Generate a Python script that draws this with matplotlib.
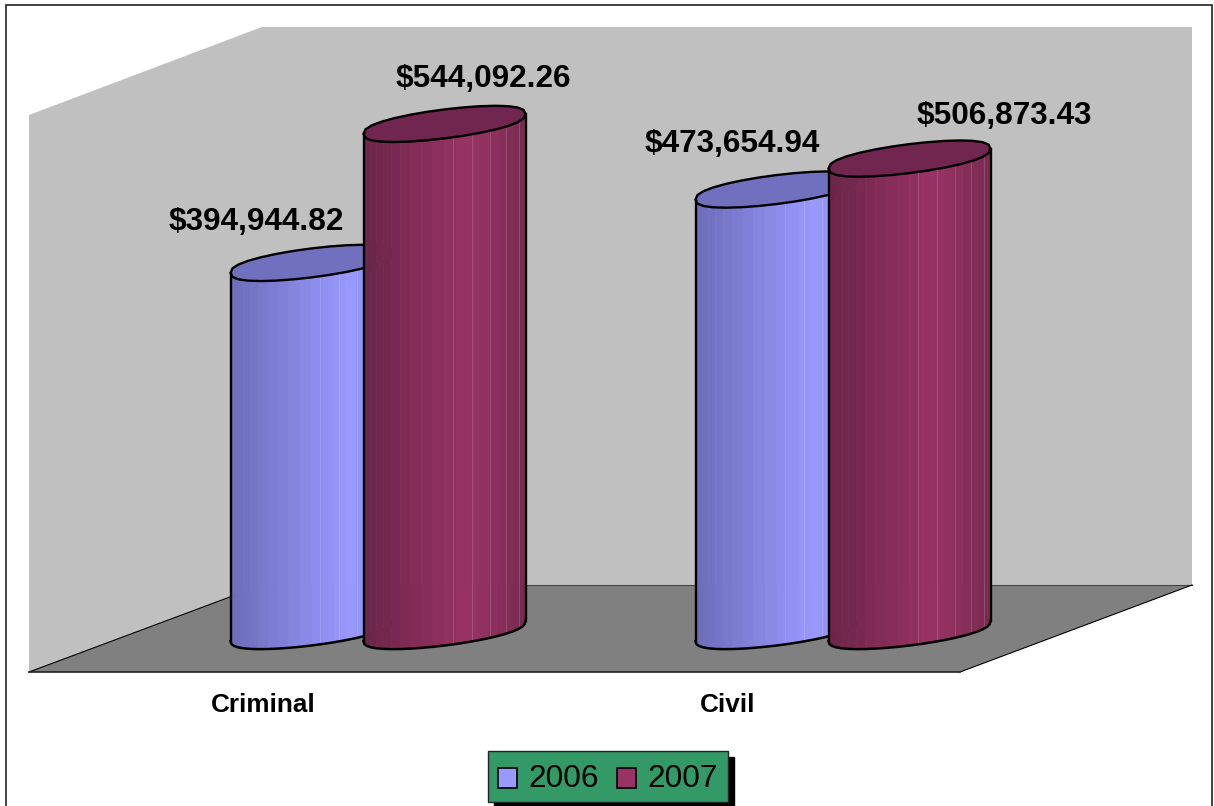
import numpy as np
import matplotlib
matplotlib.use("Agg")
import matplotlib.pyplot as plt
from matplotlib.patches import Polygon, Rectangle, Patch
from matplotlib.colors import to_rgb
from matplotlib.legend_handler import HandlerPatch

categories = ["Criminal", "Civil"]
series_names = ["2006", "2007"]
values_2006 = [394944.82, 473654.94]
values_2007 = [544092.26, 506873.43]

W, H = 1214, 806
plt.rcParams["font.family"] = ["Liberation Sans", "DejaVu Sans"]
fig = plt.figure(figsize=(W / 100, H / 100), dpi=100, facecolor="white")

# ---- chart furniture in pixel coordinates
bg = fig.add_axes([0, 0, 1, 1], zorder=0)
bg.set_xlim(0, W); bg.set_ylim(H, 0); bg.axis("off")
bg.add_patch(Rectangle((5.5, 5), 1206, 810, fc="white", ec="#222222", lw=1.2))
bg.add_patch(Polygon([(29, 115), (262, 27), (1192, 27), (1192, 585), (262, 585), (29, 672)],
                     closed=True, fc="#C0C0C0", ec="none"))
bg.add_patch(Polygon([(29, 672), (262, 585), (1192, 585), (960, 672)],
                     closed=True, fc="#808080", ec="none"))
bg.plot([29, 262], [672, 585], color="black", lw=0.8)
bg.plot([262, 1192], [585, 585], color="#444444", lw=0.8)
bg.plot([1192, 960], [585, 672], color="black", lw=0.8)
bg.plot([29, 960], [672, 672], color="#222222", lw=1.2)

# ---- data axes: x in category units, y in dollars
PX_PER_CAT = 465.0
PX_PER_USD = 0.000932
X0_PX, BASE_PX = 378.0, 631.0
ax = fig.add_axes([0, 0, 1, 1], zorder=1)
ax.patch.set_alpha(0)
ax.axis("off")
ax.set_xlim(-X0_PX / PX_PER_CAT, (W - X0_PX) / PX_PER_CAT)
ax.set_ylim((BASE_PX - H) / PX_PER_USD, BASE_PX / PX_PER_USD)

HALF_W = 81.0 / PX_PER_CAT
OFFSET = 66.5 / PX_PER_CAT
SHEAR = 10.0 / PX_PER_USD
DEPTH = 14.5 / PX_PER_USD

def ramp(stops, f):
    fs = [s[0] for s in stops]
    rgb = np.array([to_rgb(s[1]) for s in stops])
    return tuple(np.interp(f, fs, rgb[:, k]) for k in range(3))

BLUE = dict(stops=[(0, "#6C6CB8"), (0.72, "#9999FF"), (1, "#8C8CE8")], top="#7070BE", face="#9999FF")
MAROON = dict(stops=[(0, "#6B2547"), (0.65, "#993366"), (1, "#782A50")], top="#70264E", face="#993366")

def edge(base, t):
    s = np.sin(t)
    return base + SHEAR * np.cos(t) + DEPTH * np.sign(s) * np.abs(s) ** 0.8

def cylinder(xc, value, style, z):
    t_front = np.linspace(np.pi, 2 * np.pi, 23)
    xf = xc + HALF_W * np.cos(t_front)
    bottom, top = edge(0, t_front), edge(value, t_front)
    for i in range(len(t_front) - 1):
        f = ((xf[i] + xf[i + 1]) / 2 - (xc - HALF_W)) / (2 * HALF_W)
        c = ramp(style["stops"], f)
        ax.fill([xf[i], xf[i + 1], xf[i + 1], xf[i]],
                [bottom[i], bottom[i + 1], top[i + 1], top[i]],
                fc=c, ec=c, lw=0.4, zorder=z)
    for f in (0.55, 0.67, 0.78, 0.88, 0.96):
        xl = xc - HALF_W + 2 * HALF_W * f
        t = 2 * np.pi - np.arccos((xl - xc) / HALF_W)
        ax.plot([xl, xl], [edge(0, t), edge(value, t)], color="white", lw=0.5, alpha=0.22, zorder=z)
    t_all = np.linspace(0, 2 * np.pi, 29)
    ax.fill(xc + HALF_W * np.cos(t_all), edge(value, t_all), fc=style["top"], ec="black", lw=1.7, zorder=z + 0.2)
    ax.plot(xf, bottom, color="black", lw=1.8, zorder=z + 0.2)
    for sign, t in ((-1, np.pi), (1, 0.0)):
        ax.plot([xc + sign * HALF_W] * 2, [edge(0, t), edge(value, t)], color="black", lw=1.7, zorder=z + 0.2)

for i in range(len(categories)):
    cylinder(i - OFFSET, values_2006[i], BLUE, 2 + i * 2)
    cylinder(i + OFFSET, values_2007[i], MAROON, 3 + i * 2)

def usd(v):
    return f"${v:,.2f}"

# label offsets from the centre of each cylinder top, in pixels
label_offsets_2006 = [(-55, 41), (-44, 46)]
label_offsets_2007 = [(39, 45), (95, 43)]
for i in range(len(categories)):
    ax.annotate(usd(values_2006[i]), (i - OFFSET, values_2006[i]), xytext=label_offsets_2006[i],
                textcoords="offset pixels", ha="center", va="center", fontsize=22.7, fontweight="bold", zorder=20)
    ax.annotate(usd(values_2007[i]), (i + OFFSET, values_2007[i]), xytext=label_offsets_2007[i],
                textcoords="offset pixels", ha="center", va="center", fontsize=22.7, fontweight="bold", zorder=20)
    ax.annotate(categories[i], (i, 0), xytext=(-115, -74), textcoords="offset pixels",
                ha="center", va="center", fontsize=18.8, fontweight="bold", zorder=20)

def lowered_square(legend, orig_handle, xdescent, ydescent, width, height, fontsize):
    return Rectangle((-xdescent, -ydescent - 3.2), width, height)

handles = [Patch(fc=BLUE["face"], ec="black", lw=1.2), Patch(fc=MAROON["face"], ec="black", lw=1.2)]
leg = ax.legend(handles, series_names, ncol=2, loc="lower left",
                bbox_to_anchor=(488 / W, 1 - 802 / H), bbox_transform=fig.transFigure,
                fontsize=22.7, frameon=True, fancybox=False, facecolor="#339966", edgecolor="#222222",
                framealpha=1, borderaxespad=0, borderpad=0.33, handlelength=0.6, handleheight=0.6,
                handletextpad=0.36, columnspacing=0.56,
                handler_map={Patch: HandlerPatch(patch_func=lowered_square)},
                shadow=dict(ox=4, oy=-4, facecolor="black", edgecolor="black", alpha=1))
leg.set_zorder(30)
leg.get_frame().set_linewidth(1.0)
for txt in leg.get_texts():
    txt.set_position((0, -2))

fig.savefig("out.png", dpi=100)
